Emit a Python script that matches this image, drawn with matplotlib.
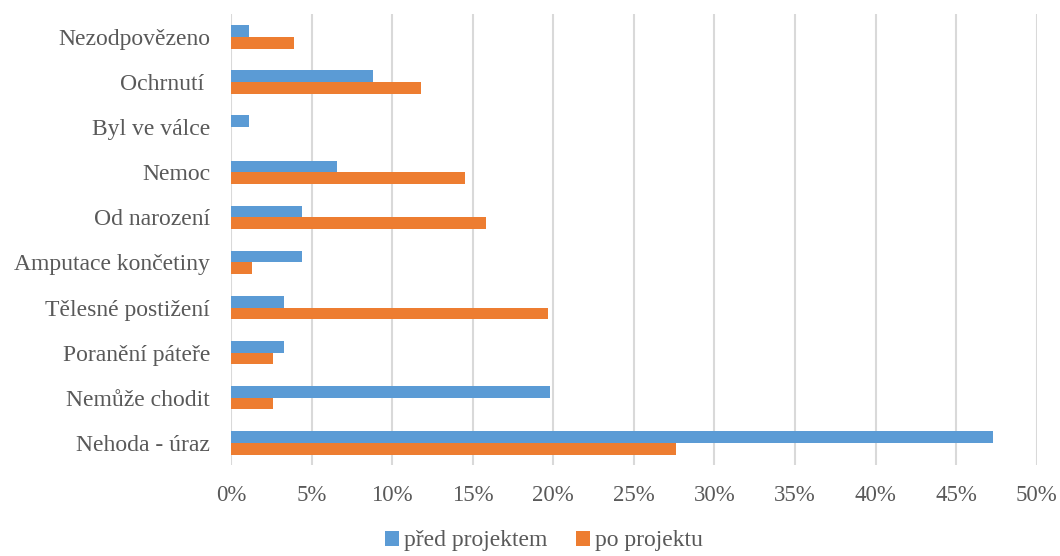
import matplotlib.pyplot as plt
import numpy as np

categories = ['Nezodpovězeno', 'Ochrnutí ', 'Byl ve válce', 'Nemoc', 'Od narození',
              'Amputace končetiny', 'Tělesné postižení', 'Poranění páteře',
              'Nemůže chodit', 'Nehoda - úraz']
pred_projektem = [1.1, 8.8, 1.1, 6.6, 4.4, 4.4, 3.3, 3.3, 19.8, 47.3]
po_projektu = [3.9, 11.8, 0.0, 14.5, 15.8, 1.3, 19.7, 2.6, 2.6, 27.6]
xticks = [0, 5, 10, 15, 20, 25, 30, 35, 40, 45, 50]

blue = '#5B9BD5'
orange = '#ED7D31'
text_c = '#595959'

plt.rcParams['font.family'] = ['Liberation Serif', 'DejaVu Serif']

fig = plt.figure(figsize=(10.6, 5.56), dpi=100)
ax = fig.add_axes([0.218, 0.163, 0.76, 0.811])

y = np.arange(len(categories))[::-1]
h = 0.26
ax.barh(y + h / 2, pred_projektem, height=h, color=blue, label='před projektem', zorder=3)
ax.barh(y - h / 2, po_projektu, height=h, color=orange, label='po projektu', zorder=3)

ax.set_xlim(0, 50)
ax.set_ylim(-0.5, len(categories) - 0.5)
ax.set_xticks(xticks)
ax.set_xticklabels(['%d%%' % t for t in xticks])
ax.set_yticks(y)
ax.set_yticklabels(categories)
ax.tick_params(length=0, labelsize=16.5, colors=text_c)
ax.tick_params(axis='y', pad=15, labelsize=17)
ax.tick_params(axis='x', pad=14)
ax.grid(axis='x', color='#d9d9d9', lw=1.5, zorder=0)
for s in ax.spines.values():
    s.set_visible(False)

fig.legend(loc='lower center', ncol=2, frameon=False, fontsize=17,
           labelcolor=text_c, handlelength=0.6, handleheight=0.6,
           handletextpad=0.2, columnspacing=1.2, bbox_to_anchor=(0.513, -0.03))

fig.savefig('out.png', dpi=100)
